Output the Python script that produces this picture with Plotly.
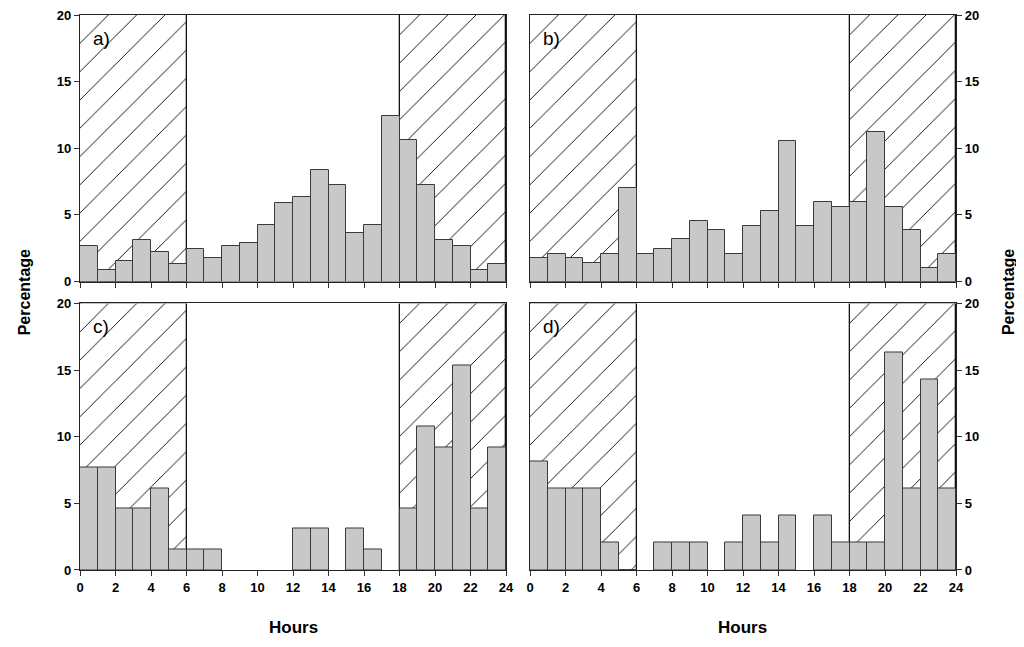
import plotly.graph_objects as go

hours = [h + 0.5 for h in range(24)]
panel_a = [2.70, 0.90, 1.57, 3.15, 2.25, 1.35, 2.45, 1.80, 2.70, 2.92, 4.27, 5.87,
           6.32, 8.34, 7.22, 3.62, 4.27, 12.41, 10.59, 7.22, 3.15, 2.70, 0.90, 1.35]
panel_b = [1.77, 2.10, 1.77, 1.37, 2.10, 7.02, 2.10, 2.45, 3.17, 4.54, 3.85, 2.10,
           4.19, 5.27, 10.51, 4.19, 5.97, 5.59, 5.97, 11.21, 5.59, 3.85, 1.02, 2.10]
panel_c = [7.69, 7.69, 4.62, 4.62, 6.15, 1.54, 1.54, 1.54, None, None, None, None,
           3.08, 3.08, None, 3.08, 1.54, None, 4.62, 10.77, 9.23, 15.38, 4.62, 9.23]
panel_d = [8.16, 6.12, 6.12, 6.12, 2.04, 0.0, None, 2.04, 2.04, 2.04, None, 2.04,
           4.08, 2.04, 4.08, None, 4.08, 2.04, 2.04, 2.04, 16.33, 6.12, 14.29, 6.12]
labels = ["a)", "b)", "c)", "d)"]
night_centers = [3, 21]
night_widths = [6, 6]
night_height = [20, 20]
x_ticks = list(range(0, 25, 2))
y_ticks = [0, 5, 10, 15, 20]

FONT = "Liberation Sans, Arial"
TICKFONT = dict(family=FONT, size=13, color="black", weight="bold")

W, H = 1016, 639
fig = go.Figure()

xd = [[0, 0.4863], [0.5137, 1.0]]
yd = [[0.5198, 1.0], [0.0, 0.4802]]
panels = [panel_a, panel_b, panel_c, panel_d]

for i, vals in enumerate(panels):
    r, c = divmod(i, 2)
    n = i + 1
    xa = "x" if n == 1 else f"x{n}"
    ya = "y" if n == 1 else f"y{n}"
    fig.add_trace(go.Bar(
        x=night_centers, y=night_height, width=night_widths, xaxis=xa, yaxis=ya,
        marker=dict(color="white", line=dict(color="#111", width=1.3),
                    pattern=dict(shape="/", size=20, solidity=0.045,
                                 fgcolor="#000", bgcolor="white", fgopacity=1)),
        showlegend=False, hoverinfo="skip"))
    fig.add_trace(go.Bar(
        x=hours, y=vals, width=1, xaxis=xa, yaxis=ya,
        marker=dict(color="#c8c8c8", line=dict(color="#3a3a3a", width=1)),
        showlegend=False))
    fig.update_layout(**{
        ("xaxis" if n == 1 else f"xaxis{n}"): dict(
            domain=xd[c], range=[0, 24], tickvals=x_ticks,
            showticklabels=(r == 1), ticks="outside", ticklen=5,
            tickcolor="#333", showline=True, linecolor="#222", linewidth=1.2,
            mirror=True, showgrid=False, zeroline=False,
            tickfont=TICKFONT, anchor=ya),
        ("yaxis" if n == 1 else f"yaxis{n}"): dict(
            domain=yd[r], range=[0, 20], tickvals=y_ticks,
            side="left" if c == 0 else "right",
            ticks="outside", ticklen=5, tickcolor="#333",
            showline=True, linecolor="#222", linewidth=1.2, mirror=True,
            showgrid=False, zeroline=False, ticklabeloverflow="allow",
            tickfont=TICKFONT, anchor=xa),
    })
    fig.add_annotation(text=labels[i], xref=f"{xa} domain", yref=f"{ya} domain",
                       x=0.025, y=0.96, xanchor="left", yanchor="top",
                       showarrow=False, font=dict(family=FONT, size=19, color="black"))

bold = dict(family=FONT, size=16, color="black", weight="bold")
fig.add_annotation(text="Percentage", xref="paper", yref="paper",
                   x=-0.063, y=0.5, textangle=-90, showarrow=False,
                   font=bold, xanchor="center", yanchor="middle")
fig.add_annotation(text="Percentage", xref="paper", yref="paper",
                   x=1.06, y=0.5, textangle=-90, showarrow=False,
                   font=bold, xanchor="center", yanchor="middle")
hfont = dict(family=FONT, size=17, color="black", weight="bold")
fig.add_annotation(text="Hours", xref="paper", yref="paper",
                   x=0.2432, y=-0.104, showarrow=False, font=hfont,
                   xanchor="center", yanchor="middle")
fig.add_annotation(text="Hours", xref="paper", yref="paper",
                   x=0.7568, y=-0.104, showarrow=False, font=hfont,
                   xanchor="center", yanchor="middle")

fig.update_layout(
    width=W, height=H, barmode="overlay", bargap=0,
    margin=dict(l=72, r=W - 948, t=0, b=H - 562),
    paper_bgcolor="white", plot_bgcolor="white",
    font=dict(family=FONT, size=13, color="black"),
)
fig.write_html("out.html")
